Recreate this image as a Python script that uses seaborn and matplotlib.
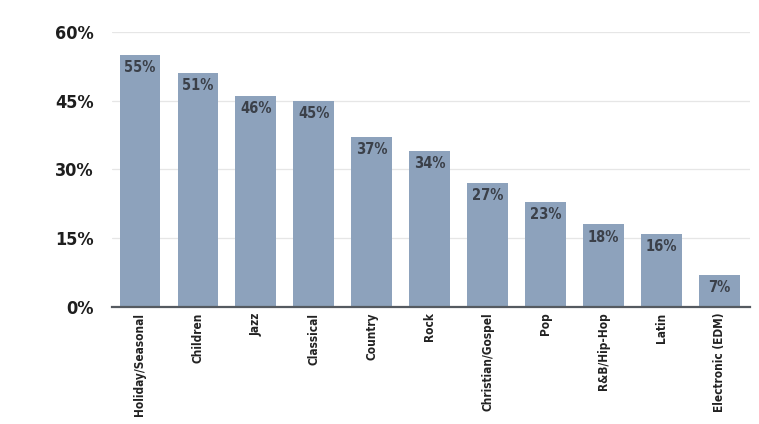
import matplotlib
matplotlib.use('Agg')
import matplotlib.pyplot as plt
import seaborn as sns
import pandas as pd

# data
genres = ['Holiday/Seasonal', 'Children', 'Jazz', 'Classical', 'Country', 'Rock',
          'Christian/Gospel', 'Pop', 'R&B/Hip-Hop', 'Latin', 'Electronic (EDM)']
share = [55, 51, 46, 45, 37, 34, 27, 23, 18, 16, 7]
yticks = [0, 15, 30, 45, 60]

df = pd.DataFrame({'genre': genres, 'share': share})

sns.set_theme(style='white')
plt.rcParams['font.family'] = ['DejaVu Sans']
plt.rcParams['font.stretch'] = 'condensed'
plt.rcParams['font.weight'] = 'bold'

fig = plt.figure(figsize=(7.59, 4.24), dpi=100)
ax = fig.add_axes([0.1476, 0.276, 0.84, 0.6485])

sns.barplot(data=df, x='genre', y='share', color='#8da2bc', saturation=1,
            width=0.7, linewidth=0, ax=ax, zorder=2)

# percentage labels inside bar tops
for i, v in enumerate(share):
    ax.text(i, v - 1.1, f'{v}%', ha='center', va='top', fontsize=10.5,
            fontweight='bold', fontstretch='condensed', color='#3b4049', zorder=3)

ax.set_ylim(0, 60)
ax.set_xlim(-0.48, len(genres) - 0.48)
ax.set_yticks(yticks)
ax.set_yticklabels([f'{t}%' for t in yticks], fontsize=13, fontweight='bold',
                   fontstretch='condensed', color='#1e1e1e')
ax.tick_params(axis='y', length=0, pad=13)
ax.tick_params(axis='x', length=0, pad=4)
ax.set_xticks(range(len(genres)))
ax.set_xticklabels(genres, rotation=90, fontsize=8.5, fontweight='bold',
                   fontstretch='condensed', color='#222222')
ax.set_xlabel('')
ax.set_ylabel('')

for t in yticks[1:]:
    ax.axhline(t, color='#e6e6e6', lw=0.9, zorder=1)

for s in ['top', 'right', 'left']:
    ax.spines[s].set_visible(False)
ax.spines['bottom'].set_color('#555a60')
ax.spines['bottom'].set_linewidth(1.6)

fig.savefig('out.png', dpi=100)
